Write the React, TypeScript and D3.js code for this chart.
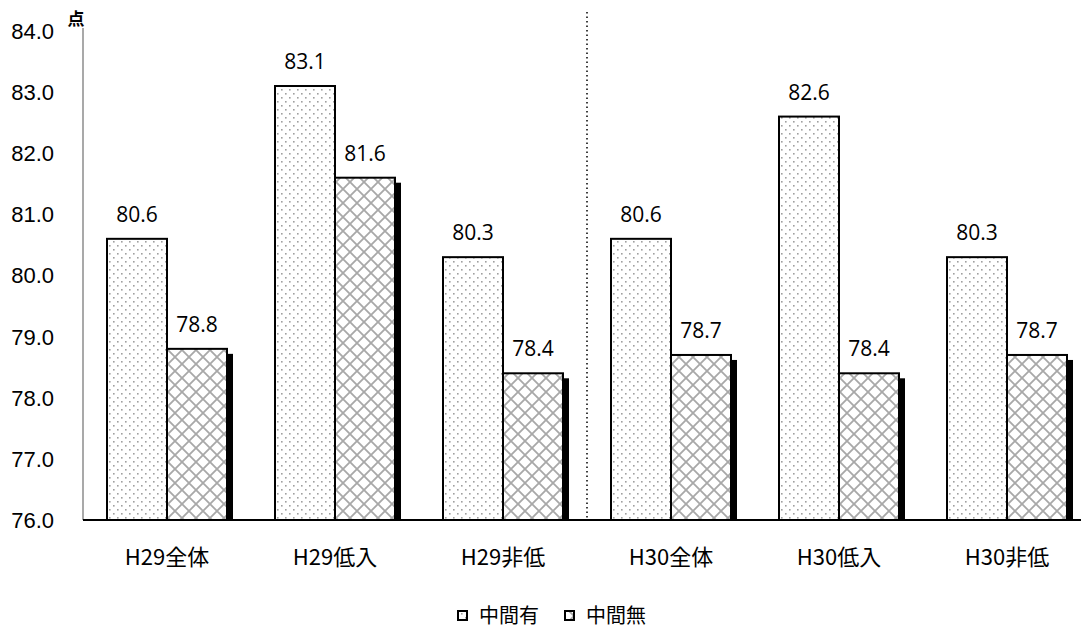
import React from "react";
import * as d3 from "d3";

const WIDTH = 1081;
const HEIGHT = 630;

const categories = ["H29全体", "H29低入", "H29非低", "H30全体", "H30低入", "H30非低"];
const seriesNames = ["中間有", "中間無"];
const withMid = [80.6, 83.1, 80.3, 80.6, 82.6, 80.3];
const withoutMid = [78.8, 81.6, 78.4, 78.7, 78.4, 78.7];
const yTicks = [76, 77, 78, 79, 80, 81, 82, 83, 84];
const yUnit = "点";

const margin = { left: 83, top: 31, bottom: 110 };
const plotRight = 1091;

export default function App() {
  const x = d3.scaleBand().domain(categories).range([margin.left, plotRight]).paddingInner(0).paddingOuter(0);
  const y = d3.scaleLinear().domain([76, 84]).range([HEIGHT - margin.bottom, margin.top]);
  const barW = 60;
  const fmt = d3.format(".1f");
  const baseY = y(76);
  const series = [withMid, withoutMid];
  const fills = ["url(#dots)", "url(#lattice)"];

  return (
    <div style={{ position: "absolute", left: 0, top: 0 }}>
      <svg width={WIDTH} height={HEIGHT} style={{ display: "block", background: "#fff" }}>
        <defs>
          <pattern id="dots" width="8" height="8" patternUnits="userSpaceOnUse">
            <rect width="8" height="8" fill="#fff" />
            <rect x="1" y="1" width="1.6" height="1.6" fill="#a0a0a0" />
            <rect x="5" y="5" width="1.6" height="1.6" fill="#a0a0a0" />
          </pattern>
          <pattern id="lattice" width="14" height="14" patternUnits="userSpaceOnUse">
            <rect width="14" height="14" fill="#fff" />
            <path d="M0,0 L14,14 M14,0 L0,14" stroke="#a8a8a8" strokeWidth="1.8" />
          </pattern>
          <clipPath id="plotClip">
            <rect x={margin.left} y={0} width={WIDTH} height={baseY} />
          </clipPath>
        </defs>

        {/* y axis labels */}
        {yTicks.map((t) => (
          <text key={t} x={54} y={y(t)} dy="0.36em" textAnchor="end"
            fontFamily="Liberation Sans, Arial, sans-serif" fontSize={22} fill="#000">
            {fmt(t)}
          </text>
        ))}
        <text x={76} y={25} textAnchor="middle" fontFamily="Noto Sans CJK JP" fontSize={17} fontWeight="bold">{yUnit}</text>
        <line x1={margin.left} x2={margin.left} y1={margin.top - 3} y2={baseY} stroke="#8c8c8c" strokeWidth={1.5} />

        {/* divider between years */}
        <line x1={x("H30全体")} x2={x("H30全体")} y1={12} y2={baseY} stroke="#000" strokeWidth={1.5} strokeDasharray="1.5 3" />

        {/* bars */}
        <g clipPath="url(#plotClip)">
          {categories.map((c, i) => {
            const cx = x(c)! + x.bandwidth() / 2;
            return (
              <g key={c}>
                {series.map((vals, s) => {
                  const bx = cx - barW + s * barW;
                  const top = y(vals[i]);
                  return (
                    <g key={s}>
                      {s === 1 && (
                        <rect x={bx + 6} y={top + 5} width={barW} height={baseY - top} fill="#000" />
                      )}
                      <rect x={bx} y={top} width={barW} height={baseY - top}
                        fill={fills[s]} stroke="#000" strokeWidth={2} />
                    </g>
                  );
                })}
              </g>
            );
          })}
        </g>

        {/* value labels */}
        {categories.map((c, i) => {
          const cx = x(c)! + x.bandwidth() / 2;
          return series.map((vals, s) => (
            <text key={c + s} x={cx - barW / 2 + s * barW} y={y(vals[i]) - 17} textAnchor="middle"
              fontFamily="Open Sans, sans-serif" fontSize={21} fill="#000">
              {fmt(vals[i])}
            </text>
          ));
        })}

        {/* x axis */}
        <line x1={margin.left} x2={WIDTH} y1={baseY} y2={baseY} stroke="#000" strokeWidth={2} />
        {categories.map((c) => (
          <text key={c} x={x(c)! + x.bandwidth() / 2} y={565} textAnchor="middle"
            fontFamily="Noto Sans CJK JP" fontSize={22} fill="#000">
            {c}
          </text>
        ))}

        {/* legend */}
        {seriesNames.map((n, s) => {
          const lx = 458 + s * 107;
          return (
            <g key={n}>
              <rect x={lx} y={611} width={9} height={9} fill={fills[s]} stroke="#000" strokeWidth={2} />
              <text x={lx + 21} y={623} fontFamily="Noto Sans CJK JP" fontSize={20} fill="#000">{n}</text>
            </g>
          );
        })}
      </svg>
    </div>
  );
}
